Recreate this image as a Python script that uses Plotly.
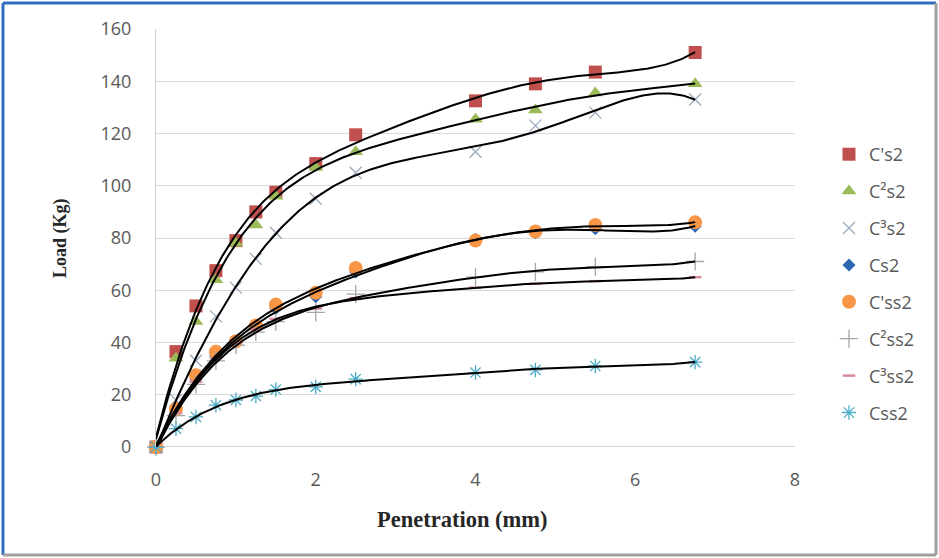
import numpy as np
import plotly.graph_objects as go

# ---- data ----
penetration = [0, 0.25, 0.5, 0.75, 1.0, 1.25, 1.5, 2.0, 2.5, 4.0, 4.75, 5.5, 6.75]

series_names = ["C's2", "C²s2", "C³s2", "Cs2", "C'ss2", "C²ss2", "C³ss2", "Css2"]

c1s2 = [0, 36.5, 54, 67.5, 79, 90, 97.5, 108.5, 119.5, 132.5, 139, 143.5, 151]
c2s2 = [0, 34, 48, 64, 78, 85, 96, 107, 113, 125.5, 129, 135.5, 139]
c3s2 = [0, 18, 33, 50, 61, 72, 82, 95, 105, 113, 123, 128, 133]
cs2 = [0, 14, 26, 35, 40, 46, 53, 57.5, 67, 79.5, 82, 83.5, 84.5]
c1ss2 = [0, 14.5, 27.5, 36.5, 40.5, 46.5, 54.5, 59, 68.5, 79, 82.5, 85, 86]
c2ss2 = [0, 12, 24, 33, 39, 44, 48, 51.5, 58.5, 65, 67, 69, 71]
c3ss2 = [0, 13, 25, 34, 40, 45, 49, 53, 57, 61, 62.5, 63.5, 65]
css2 = [0, 7, 11.5, 16, 18, 19.5, 22, 23, 26, 28.5, 29.5, 31, 32.5]

values = [c1s2, c2s2, c3s2, cs2, c1ss2, c2ss2, c3ss2, css2]

x_ticks = [0, 2, 4, 6, 8]
y_ticks = [0, 20, 40, 60, 80, 100, 120, 140, 160]

# ---- styles ----
styles = [
    dict(symbol="square", color="#C0504D", size=13),
    dict(symbol="triangle-up", color="#9BBB59", size=13),
    dict(symbol="x-thin-open", color="#9AA8BD", size=12, line=dict(width=1.3, color="#9AA8BD")),
    dict(symbol="diamond", color="#2E67B1", size=10),
    dict(symbol="circle", color="#F79646", size=14),
    dict(symbol="cross-thin-open", color="#A6A6A6", size=13, line=dict(width=1.3, color="#A6A6A6")),
    dict(symbol="line-ew-open", color="#D98C9A", size=9, line=dict(width=2.5, color="#D98C9A")),
    dict(symbol="asterisk-open", color="#4BACC6", size=12, line=dict(width=1.3, color="#4BACC6")),
]

fig = go.Figure()

for name, vals, st in zip(series_names, values, styles):
    fig.add_trace(go.Scatter(
        x=penetration, y=vals, mode="markers", name=name,
        legendgroup=name, marker=st, cliponaxis=False,
    ))

# polynomial trendlines fitted to the data
xs = np.linspace(0, max(penetration), 300)
for name, vals in zip(series_names, values):
    coef = np.polyfit(penetration, vals, 5)
    fig.add_trace(go.Scatter(
        x=xs, y=np.polyval(coef, xs), mode="lines", showlegend=False,
        line=dict(color="black", width=2), hoverinfo="skip",
    ))

# pixel helpers (plot area 156..795 x, 29..447 y)
def px(xp):
    return (xp - 156) / 639.0

def py(yp):
    return (447 - yp) / 418.0

tick_font = dict(family="Open Sans", size=18, color="#595959")

fig.update_layout(
    width=939, height=558,
    margin=dict(l=156, r=144, t=29, b=111),
    paper_bgcolor="white", plot_bgcolor="white",
    showlegend=True,
    legend=dict(
        x=px(829), y=py(136), xanchor="left", yanchor="top",
        font=dict(family="Open Sans", size=18, color="#595959"),
        tracegroupgap=10.5, bgcolor="rgba(0,0,0,0)",
    ),
    xaxis=dict(
        range=[0, 8], tickvals=x_ticks, showgrid=False, zeroline=False,
        showline=False, ticks="", ticklabelstandoff=20,
        tickfont=tick_font,
    ),
    yaxis=dict(
        range=[0, 160], tickvals=y_ticks, showgrid=True, gridcolor="#D9D9D9",
        gridwidth=1.2, zeroline=False, showline=True, linecolor="#D0D0D0",
        ticks="", ticklabelstandoff=20,
        tickfont=tick_font,
    ),
    annotations=[
        dict(text="<b>Penetration (mm)</b>", xref="paper", yref="paper",
             x=px(462), y=py(519), xanchor="center", yanchor="middle", showarrow=False,
             font=dict(family="Liberation Serif", size=22.5, color="#262626")),
        dict(text="<b>Load (Kg)</b>", xref="paper", yref="paper",
             x=px(60), y=py(238), xanchor="center", yanchor="middle", showarrow=False,
             textangle=-90,
             font=dict(family="Liberation Serif", size=18, color="#262626")),
    ],
    shapes=[
        dict(type="line", xref="paper", yref="paper", x0=px(3), x1=px(936), y0=py(3), y1=py(3),
             line=dict(color="#2F6EBA", width=3)),
        dict(type="line", xref="paper", yref="paper", x0=px(3), x1=px(3), y0=py(3), y1=py(555),
             line=dict(color="#2F6EBA", width=3)),
        dict(type="line", xref="paper", yref="paper", x0=px(3), x1=px(936), y0=py(555), y1=py(555),
             line=dict(color="#A0A0A0", width=3)),
        dict(type="line", xref="paper", yref="paper", x0=px(936), x1=px(936), y0=py(3), y1=py(555),
             line=dict(color="#A0A0A0", width=3)),
        dict(type="line", xref="paper", yref="y", x0=0, x1=1, y0=0, y1=0,
             line=dict(color="#C8C8C8", width=1.5), layer="below"),
    ],
)

fig.write_html("out.html")
